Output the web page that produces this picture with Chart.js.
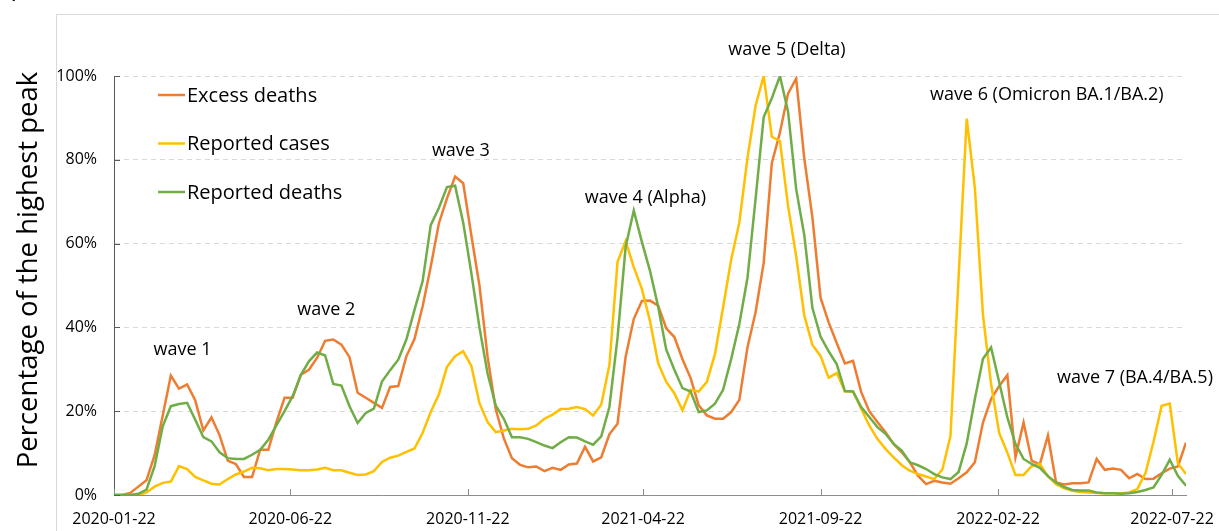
<!DOCTYPE html>
<html>
<head>
<meta charset="utf-8">
<title>Waves</title>
<script src="https://cdn.jsdelivr.net/npm/chart.js@4.4.1/dist/chart.umd.min.js"></script>
<style>
  html, body { margin: 0; padding: 0; background: #fff; }
  #wrap { width: 1219px; height: 531px; }
</style>
</head>
<body>
<div id="wrap"><canvas id="waveChart" width="1219" height="531"></canvas></div>
<script>
// weekly series, % of each series' own highest peak, first week = startDate
const startDate = "2020-01-22";
const tickDates = ["2020-01-22", "2020-06-22", "2020-11-22", "2021-04-22", "2021-09-22", "2022-02-22", "2022-07-22"];
const seriesNames = ["Excess deaths", "Reported cases", "Reported deaths"];
const yTitle = "Percentage of the highest peak";
const waveNames = ["wave 1", "wave 2", "wave 3", "wave 4 (Alpha)", "wave 5 (Delta)", "wave 6 (Omicron BA.1/BA.2)", "wave 7 (BA.4/BA.5)"];

const excessDeaths = [
  0, 0, 0.5, 2, 3.5, 9.5, 19, 28.5, 25.4, 26.4,
  22.6, 15.4, 18.5, 14.3, 8.2, 7.4, 4.3, 4.3, 10.8, 10.8,
  17.4, 23.2, 23.2, 28.7, 29.9, 32.7, 36.8, 37.1, 35.9, 32.9,
  24.4, 23.2, 22, 20.8, 25.8, 26, 33.1, 37.2, 45, 54.5,
  64.8, 70.8, 76, 74.4, 62, 50, 33, 20.5, 13.5, 8.8,
  7.2, 6.6, 6.8, 5.7, 6.5, 6, 7.3, 7.5, 11.5, 8,
  9, 14.5, 17, 33, 42, 46.3, 46.4, 45.2, 39.8, 37.7,
  32.4, 27.9, 21.4, 19, 18.2, 18.2, 19.8, 22.7, 35.2, 43.6,
  55.4, 79.2, 86.5, 95.8, 99.4, 80.3, 66.2, 47.1, 41.2, 36.2,
  31.4, 32, 24.6, 20, 17.4, 15, 12.2, 10.2, 7.8, 4.6,
  2.6, 3.4, 3, 2.7, 4, 5.4, 7.8, 17.3, 22.9, 26,
  28.6, 9, 17.3, 8.2, 7.3, 14.2, 3, 2.5, 2.8, 2.8,
  3, 8.6, 6, 6.3, 6, 4, 5, 3.8, 3.9, 5.2,
  6.3, 6.8, 12.5
];

const reportedCases = [
  0, 0, 0, 0, 0.6, 2, 2.9, 3.2, 6.9, 6.2,
  4.3, 3.5, 2.7, 2.5, 3.8, 4.9, 5.6, 6.5, 6.4, 5.9,
  6.2, 6.2, 6.1, 5.9, 5.9, 6.1, 6.5, 5.9, 5.9, 5.3,
  4.8, 4.9, 5.7, 7.9, 8.9, 9.4, 10.3, 11.1, 14.8, 19.8,
  24, 30.6, 33.1, 34.3, 30.8, 21.9, 17.4, 15, 15.4, 15.8,
  15.7, 15.8, 16.6, 18.2, 19.2, 20.5, 20.6, 21, 20.5, 19,
  21.6, 31, 55.6, 60.6, 54.4, 49.2, 41.5, 31.5, 27, 24.3,
  20.2, 25.1, 24.7, 27, 33.6, 44.8, 56.2, 65, 80.4, 92.9,
  100, 85.5, 84.5, 69, 57, 42.8, 35.8, 33.2, 28, 29.1,
  24.7, 24.7, 20.6, 16.6, 13.4, 11, 9, 7.1, 5.8, 5,
  4.4, 3.8, 6.1, 14.1, 52, 89.8, 73.3, 43, 26.5, 14.8,
  10.1, 4.8, 4.8, 6.9, 7.4, 4.5, 2.6, 1.6, 1, 0.7,
  0.6, 0.5, 0.4, 0.4, 0.4, 0.6, 1.4, 5.2, 12.7, 21.3,
  21.8, 7.6, 5
];

const reportedDeaths = [
  0, 0, 0, 0.3, 1.3, 6.9, 16.4, 21.2, 21.7, 22,
  18, 13.8, 12.8, 10.2, 8.8, 8.6, 8.6, 9.6, 10.8, 13.2,
  16.6, 20, 23.6, 28.6, 31.9, 34, 33.3, 26.5, 26.1, 21.2,
  17.2, 19.6, 20.6, 27.1, 29.8, 32.3, 37.1, 44.2, 51, 64.4,
  68.5, 73.5, 73.8, 65, 53, 40, 29, 21.4, 18.2, 13.8,
  13.8, 13.4, 12.6, 11.8, 11.2, 12.6, 13.8, 13.7, 12.8, 12,
  14, 21, 37.5, 59.2, 67.9, 60.4, 53.5, 45, 34.7, 29.9,
  25.5, 24.7, 19.8, 20.2, 21.8, 25.1, 32.5, 40.8, 51.8, 70.7,
  90.2, 94.7, 100, 91.5, 73, 62, 44.6, 37.8, 34.3, 31.2,
  24.8, 24.7, 21, 18.6, 16.2, 14.6, 12.2, 10.6, 7.8, 7.1,
  6.2, 5, 4.2, 3.8, 5.5, 12.3, 22.9, 32.5, 35.2, 26.9,
  18.5, 12.2, 8.6, 7.4, 6.5, 4.5, 3, 1.9, 1.2, 1.1,
  1.1, 0.6, 0.4, 0.4, 0.3, 0.4, 0.7, 1.2, 1.8, 4.8,
  8.4, 4.6, 2.2
];

const colors = ["#ED7D31", "#FFC000", "#70AD47"];
const FONT = "'Open Sans', sans-serif";
const DAY = 86400000;

function dayOffset(dateStr) {
  return Math.round((Date.parse(dateStr) - Date.parse(startDate)) / DAY);
}

// weekly points, x = days since start
function toPoints(values) {
  return values.map((v, i) => ({ x: i * 7, y: v }));
}

const tickDays = tickDates.map(dayOffset);
const lastDay = (excessDeaths.length - 1) * 7;

// label anchors in data units (day, %)
const waveAnchors = [
  [59, 34.6], [183, 44.2], [299, 82.1], [458, 70.9], [580, 106.3], [804, 95.5], [880, 27.9]
];

const decorPlugin = {
  id: "decor",
  beforeDraw(chart) {
    const ctx = chart.ctx;
    ctx.save();
    // light outer frame of the original figure
    ctx.strokeStyle = "#d9d9d9";
    ctx.lineWidth = 1;
    ctx.beginPath();
    ctx.moveTo(56.5, 531);
    ctx.lineTo(56.5, 14.5);
    ctx.lineTo(1219, 14.5);
    ctx.stroke();
    // cut-off panel letter
    ctx.fillStyle = "#000";
    ctx.font = "27px " + FONT;
    ctx.textBaseline = "alphabetic";
    ctx.fillText("(", 8, -3);
    ctx.restore();
  },
  afterDraw(chart) {
    const ctx = chart.ctx;
    const { x, y } = chart.scales;
    const area = chart.chartArea;
    ctx.save();

    // inward tick marks
    ctx.lineWidth = 1;
    ctx.strokeStyle = "#8c8c8c";
    ctx.beginPath();
    tickDays.forEach((d) => {
      const px = Math.round(x.getPixelForValue(d)) + 0.5;
      ctx.moveTo(px, area.bottom);
      ctx.lineTo(px, area.bottom - 6);
    });
    ctx.stroke();
    ctx.strokeStyle = "#595959";
    ctx.beginPath();
    y.ticks.forEach((t) => {
      const py = Math.round(y.getPixelForValue(t.value)) + 0.5;
      ctx.moveTo(area.left, py);
      ctx.lineTo(area.left + 6, py);
    });
    ctx.stroke();

    // y title
    ctx.fillStyle = "#000";
    ctx.font = "27.5px " + FONT;
    ctx.textAlign = "center";
    ctx.textBaseline = "alphabetic";
    ctx.translate(36.5, 270);
    ctx.rotate(-Math.PI / 2);
    ctx.fillText(yTitle, 0, 0);
    ctx.setTransform(1, 0, 0, 1, 0, 0);

    // legend inside the plot
    ctx.font = "20px " + FONT;
    ctx.textAlign = "left";
    ctx.textBaseline = "middle";
    chart.data.datasets.forEach((ds, i) => {
      const rowY = 95 + i * 48.5;
      ctx.strokeStyle = ds.borderColor;
      ctx.lineWidth = 2.5;
      ctx.beginPath();
      ctx.moveTo(158, rowY);
      ctx.lineTo(185, rowY);
      ctx.stroke();
      ctx.fillText(ds.label, 187, rowY + 1);
    });

    // wave labels
    ctx.font = "18px " + FONT;
    ctx.textAlign = "center";
    waveNames.forEach((name, i) => {
      const [d, p] = waveAnchors[i];
      ctx.fillText(name, x.getPixelForValue(d), y.getPixelForValue(p));
    });
    ctx.restore();
  }
};

Chart.defaults.font.family = FONT;

new Chart(document.getElementById("waveChart").getContext("2d"), {
  type: "line",
  data: {
    datasets: [
      { label: seriesNames[0], data: toPoints(excessDeaths), borderColor: colors[0], order: 3 },
      { label: seriesNames[1], data: toPoints(reportedCases), borderColor: colors[1], order: 2 },
      { label: seriesNames[2], data: toPoints(reportedDeaths), borderColor: colors[2], order: 1 }
    ]
  },
  options: {
    responsive: false,
    animation: false,
    layout: { padding: { top: 76, right: 33, bottom: 0, left: 0 } },
    plugins: { legend: { display: false }, tooltip: { enabled: false } },
    elements: {
      point: { radius: 0 },
      line: { tension: 0, borderWidth: 2.5, fill: false }
    },
    scales: {
      x: {
        type: "linear",
        min: 0,
        max: lastDay,
        grid: { display: false, drawTicks: false },
        border: { color: "#8c8c8c", width: 1 },
        afterBuildTicks: (scale) => {
          scale.ticks = tickDays.map((v) => ({ value: v }));
        },
        afterFit: (scale) => {
          scale.height = 36;
          scale.paddingLeft = 0;
          scale.paddingRight = 0;
        },
        ticks: {
          autoSkip: false,
          maxRotation: 0,
          padding: 15,
          color: "#000",
          font: { size: 16 },
          callback: (v, i) => tickDates[i]
        }
      },
      y: {
        min: 0,
        max: 100,
        afterFit: (scale) => {
          scale.width = 114;
          scale.paddingTop = 0;
          scale.paddingBottom = 0;
        },
        grid: { color: "#d9d9d9", lineWidth: 1, drawTicks: false },
        border: { color: "#595959", width: 1, dash: [5, 4] },
        ticks: {
          stepSize: 20,
          padding: 17,
          color: "#000",
          font: { size: 16 },
          callback: (v) => v + "%"
        }
      }
    }
  },
  plugins: [decorPlugin]
});
</script>
</body>
</html>
